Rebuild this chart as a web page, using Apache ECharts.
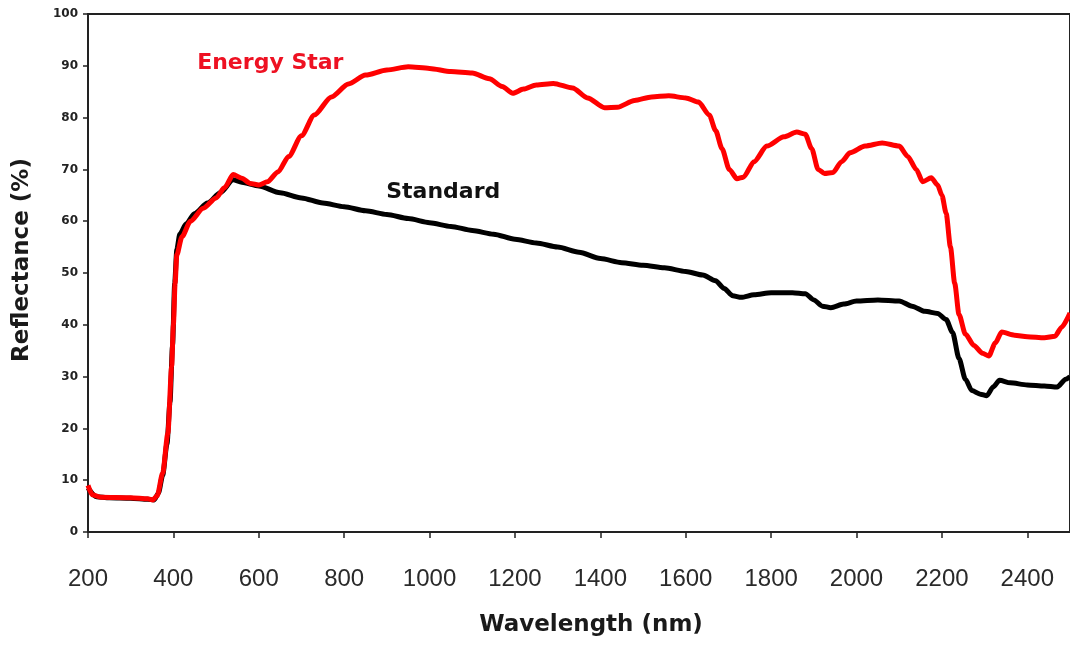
<!DOCTYPE html>
<html>
<head>
<meta charset="utf-8">
<script src="https://cdn.jsdelivr.net/npm/echarts@6/dist/echarts.min.js"></script>
<style>html,body{margin:0;padding:0;background:#fff;}#c{width:1070px;height:646px;}</style>
</head>
<body>
<div id="c"></div>
<script>
// Wavelength (nm) sample positions and reflectance (%) values
const stdWavelength = [200,220,250,300,340,355,365,375,385,392,398,403,408,415,430,450,480,510,540,560,600,650,700,750,800,850,900,950,1000,1050,1100,1150,1200,1250,1300,1350,1400,1450,1500,1550,1600,1640,1670,1690,1710,1730,1760,1800,1850,1880,1900,1920,1940,1970,2000,2050,2100,2130,2160,2190,2210,2225,2240,2255,2270,2290,2305,2320,2335,2360,2400,2440,2470,2490,2500];
const stdReflectance = [8.5,6.8,6.6,6.5,6.3,6.2,7.5,11,17,25,36,48,54.5,57.5,59.5,61.5,63.5,65.5,68,67.5,66.8,65.5,64.5,63.5,62.8,62,61.3,60.5,59.7,59,58.2,57.5,56.5,55.8,55,54,52.8,52,51.5,51,50.3,49.6,48.5,47,45.6,45.3,45.8,46.2,46.2,46,44.8,43.6,43.3,44,44.6,44.8,44.6,43.6,42.6,42.2,41,38.5,33.5,29.5,27.3,26.6,26.3,28,29.3,28.8,28.4,28.2,28,29.5,30];

const starWavelength = [200,210,230,300,340,352,362,375,387,396,400,404,408,420,440,470,500,520,540,560,580,600,620,645,670,700,730,770,810,850,900,950,1000,1050,1100,1140,1170,1195,1220,1250,1290,1335,1370,1410,1440,1480,1520,1560,1600,1630,1655,1670,1685,1702,1720,1735,1760,1790,1830,1860,1880,1895,1910,1925,1945,1965,1985,2020,2060,2100,2120,2140,2155,2175,2190,2200,2210,2220,2230,2240,2255,2275,2295,2310,2325,2340,2370,2400,2440,2465,2480,2500];
const starReflectance = [9,7.2,6.7,6.6,6.4,6.2,7,11.4,19,32,40,48,53.5,57,60,62.5,64.5,66.5,69,68.3,67.3,67,67.6,69.5,72.5,76.5,80.5,84,86.5,88.2,89.2,89.8,89.5,88.9,88.6,87.5,86,84.7,85.5,86.3,86.6,85.7,83.8,81.9,82,83.3,84,84.2,83.8,83,80.5,77.5,74,70,68.2,68.5,71.5,74.5,76.3,77.2,76.8,74,70,69.2,69.4,71.5,73.2,74.5,75.1,74.5,72.5,70,67.6,68.4,67,65,61.5,55,48,42,38.2,36,34.5,34,36.5,38.6,38,37.7,37.5,37.8,39.5,42.3];

const seriesNames = ['Standard', 'Energy Star'];
const xTitle = 'Wavelength (nm)';
const yTitle = 'Reflectance (%)';

function pairs(xs, ys) { return xs.map((x, i) => [x, ys[i]]); }

const chart = echarts.init(document.getElementById('c'), null, {renderer: 'canvas'});
chart.setOption({
  backgroundColor: '#fff',
  animation: false,
  grid: {left: 88, top: 14, width: 987, bottom: 114, show: true, borderColor: '#222', borderWidth: 2, containLabel: false},
  xAxis: {
    type: 'value', min: 200, max: 2500, interval: 200,
    axisLine: {show: true, onZero: false, lineStyle: {color: '#222', width: 2}},
    axisTick: {show: true, inside: false, length: 6, lineStyle: {color: '#222', width: 1.5}},
    axisLabel: {show: true, margin: 35, showMaxLabel: false, color: '#2a2a2a', fontSize: 24,
      fontFamily: '"Liberation Sans", Arial, sans-serif', formatter: function (v) { return String(v); }},
    splitLine: {show: false}
  },
  yAxis: {
    type: 'value', min: 0, max: 100, interval: 10,
    axisLine: {show: true, lineStyle: {color: '#222', width: 2}},
    axisTick: {show: true, inside: false, length: 5, lineStyle: {color: '#222', width: 1.5}},
    axisLabel: {show: true, margin: 10, color: '#222', fontSize: 12, fontWeight: 'bold', fontFamily: '"DejaVu Sans", sans-serif'},
    splitLine: {show: false}
  },
  graphic: [
    {type: 'text', x: 22, y: 260, rotation: Math.PI / 2,
     style: {text: yTitle, fill: '#1a1a1a', font: 'bold 23px "DejaVu Sans", sans-serif', textAlign: 'center', textVerticalAlign: 'middle'}},
    {type: 'text', x: 591, y: 625,
     style: {text: xTitle, fill: '#1a1a1a', font: 'bold 23px "DejaVu Sans", sans-serif', textAlign: 'center', textVerticalAlign: 'middle'}}
  ],
  series: [
    {
      name: seriesNames[0], type: 'line', data: pairs(stdWavelength, stdReflectance),
      showSymbol: false, smooth: 0.25, smoothMonotone: 'x',
      lineStyle: {color: '#000', width: 5}, itemStyle: {color: '#000'}, z: 2,
      markPoint: {symbol: 'circle', symbolSize: 0, silent: true,
        data: [{coord: [1032, 65.6], label: {show: true, position: 'inside', formatter: seriesNames[0], color: '#111', fontSize: 22, fontWeight: 'bold', fontFamily: '"DejaVu Sans", sans-serif'}}]}
    },
    {
      name: seriesNames[1], type: 'line', data: pairs(starWavelength, starReflectance),
      showSymbol: false, smooth: 0.25, smoothMonotone: 'x',
      lineStyle: {color: '#ff0000', width: 5}, itemStyle: {color: '#ff0000'}, z: 3,
      markPoint: {symbol: 'circle', symbolSize: 0, silent: true,
        data: [{coord: [627, 90.5], label: {show: true, position: 'inside', formatter: seriesNames[1], color: '#ee1122', fontSize: 22, fontWeight: 'bold', fontFamily: '"DejaVu Sans", sans-serif'}}]}
    }
  ]
});
</script>
</body>
</html>
